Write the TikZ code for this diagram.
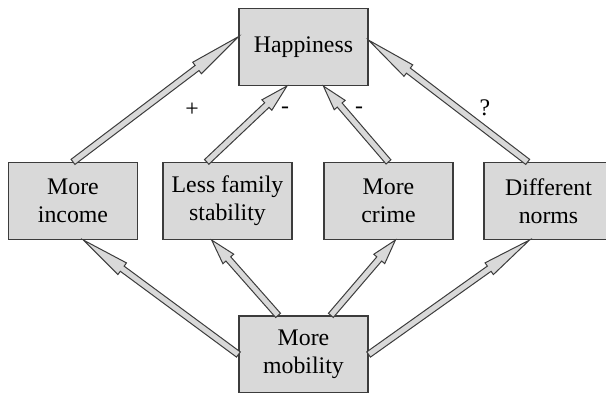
\documentclass[tikz,border=0pt]{standalone}
\usepackage{fontspec}
\setmainfont{Liberation Serif}
\usepackage{tikz}
\usetikzlibrary{calc}
\definecolor{boxgray}{RGB}{217,217,217}
\definecolor{edgegray}{RGB}{60,60,60}
\tikzset{
  box/.style={draw=edgegray,line width=0.6pt,fill=boxgray,minimum width=64.5pt,
    minimum height=38.5pt,inner sep=0pt,align=center,font=\fontsize{11.9}{14}\selectfont},
  blockarrow/.style={draw=edgegray,line width=0.5pt,fill=boxgray,line join=miter},
  sign/.style={font=\fontsize{11.9}{14}\selectfont}
}
% block arrow from #1 to #2
\newcommand{\barr}[2]{%
  \path[blockarrow] ($(#1)!1.6pt!-90:(#2)$) -- ($(#1)!0.75!(#2)!1.6pt!-90:(#2)$)
    -- ($(#1)!0.75!(#2)!3.6pt!-90:(#2)$) -- (#2) -- ($(#1)!0.75!(#2)!3.6pt!90:(#2)$)
    -- ($(#1)!0.75!(#2)!1.6pt!90:(#2)$) -- ($(#1)!1.6pt!90:(#2)$) -- cycle;}

\begin{document}
\begin{tikzpicture}[x=0.5pt,y=-0.5pt]
      \useasboundingbox (0,0) rectangle (606,392);
      \node[box] (hap) at (303.5,47) {Happiness};
      \node[box] (inc) at (73,201) {More\\income};
      \node[box] (fam) at (227.5,201) {Less family\\stability};
      \node[box] (cri) at (388.5,201) {More\\crime};
      \node[box] (nor) at (548.5,201) {Different\\norms};
      \node[box] (mob) at (303.5,354.5) {More\\mobility};
      % upper arrows
      \barr{inc.north}{hap.171}
      \barr{fam.118}{hap.247}
      \barr{cri.north}{hap.297}
      \barr{nor.118}{hap.6}
      % lower arrows
      \barr{mob.west}{inc.285}
      \barr{mob.123}{fam.248}
      \barr{mob.55}{cri.280}
      \barr{mob.east}{nor.244}
      \node[sign] (pinc) at (192,110) {+};
      \node[sign] (mfam) at (285,110) {-};
      \node[sign] (mcri) at (359,110) {-};
      \node[sign] (qnor) at (485,108) {?};
    \end{tikzpicture}
\end{document}
